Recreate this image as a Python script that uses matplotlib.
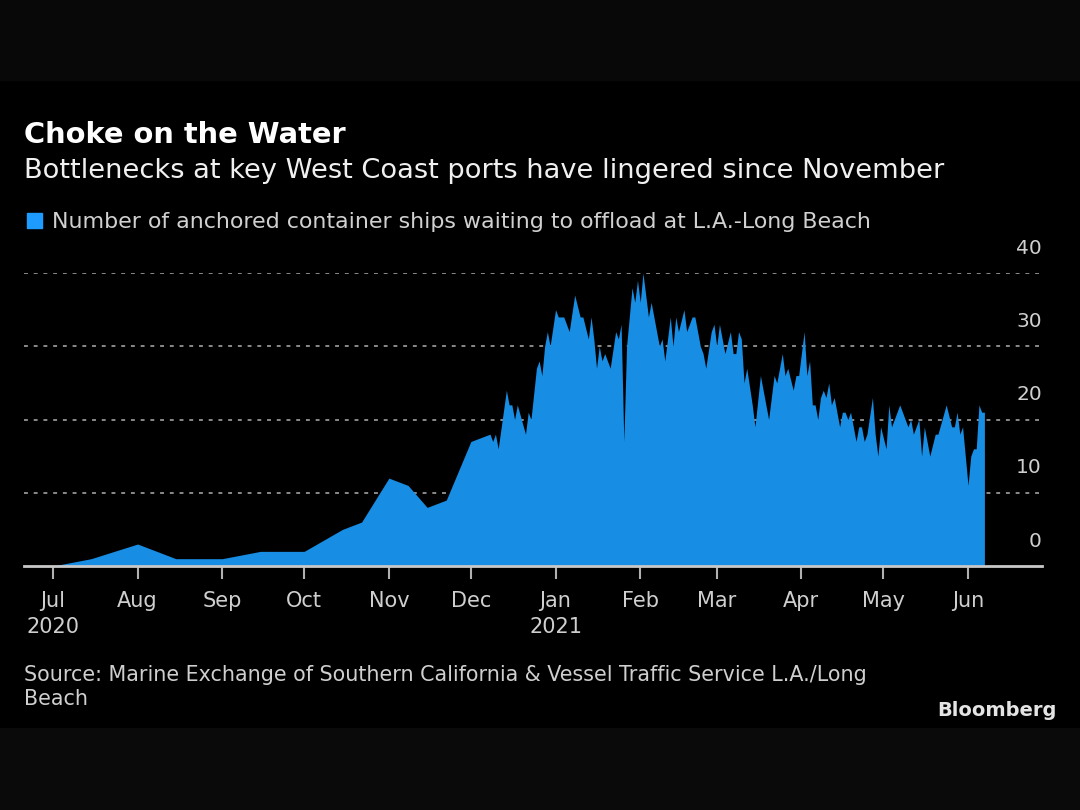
import numpy as np
import pandas as pd
import matplotlib
matplotlib.use("Agg")
import matplotlib.pyplot as plt
import matplotlib.dates as mdates
from matplotlib.patches import Rectangle

# ships waiting at anchor
dates = [
    "2020-07-01", "2020-07-15", "2020-08-01", "2020-08-15", "2020-09-01", "2020-09-15",
    "2020-10-01", "2020-10-15", "2020-10-22", "2020-11-01", "2020-11-08", "2020-11-15",
    "2020-11-22", "2020-12-01", "2020-12-08", "2020-12-09", "2020-12-10", "2020-12-11",
    "2020-12-14", "2020-12-15", "2020-12-16", "2020-12-17", "2020-12-18", "2020-12-21",
    "2020-12-22", "2020-12-23", "2020-12-25", "2020-12-26", "2020-12-27", "2020-12-28",
    "2020-12-29", "2020-12-30", "2021-01-01", "2021-01-02", "2021-01-04", "2021-01-05",
    "2021-01-06", "2021-01-08", "2021-01-10", "2021-01-11", "2021-01-13", "2021-01-14",
    "2021-01-15", "2021-01-16", "2021-01-17", "2021-01-18", "2021-01-19", "2021-01-20",
    "2021-01-21", "2021-01-23", "2021-01-24", "2021-01-25", "2021-01-26", "2021-01-27",
    "2021-01-29", "2021-01-30", "2021-01-31", "2021-02-01", "2021-02-02", "2021-02-03",
    "2021-02-04", "2021-02-05", "2021-02-08", "2021-02-09", "2021-02-10", "2021-02-12",
    "2021-02-13", "2021-02-14", "2021-02-15", "2021-02-17", "2021-02-18", "2021-02-20",
    "2021-02-21", "2021-02-23", "2021-02-24", "2021-02-25", "2021-02-27", "2021-02-28",
    "2021-03-01", "2021-03-02", "2021-03-04", "2021-03-06", "2021-03-07", "2021-03-08",
    "2021-03-09", "2021-03-10", "2021-03-11", "2021-03-12", "2021-03-14", "2021-03-15",
    "2021-03-17", "2021-03-20", "2021-03-22", "2021-03-23", "2021-03-25", "2021-03-26",
    "2021-03-27", "2021-03-29", "2021-03-30", "2021-03-31", "2021-04-02", "2021-04-03",
    "2021-04-04", "2021-04-05", "2021-04-06", "2021-04-07", "2021-04-08", "2021-04-09",
    "2021-04-10", "2021-04-11", "2021-04-12", "2021-04-13", "2021-04-15", "2021-04-16",
    "2021-04-17", "2021-04-18", "2021-04-19", "2021-04-21", "2021-04-22", "2021-04-23",
    "2021-04-24", "2021-04-25", "2021-04-27", "2021-04-28", "2021-04-29", "2021-04-30",
    "2021-05-02", "2021-05-03", "2021-05-04", "2021-05-07", "2021-05-08", "2021-05-10",
    "2021-05-11", "2021-05-12", "2021-05-14", "2021-05-15", "2021-05-16", "2021-05-18",
    "2021-05-20", "2021-05-21", "2021-05-24", "2021-05-26", "2021-05-27", "2021-05-28",
    "2021-05-29", "2021-05-30", "2021-06-01", "2021-06-02", "2021-06-03", "2021-06-04",
    "2021-06-05", "2021-06-06", "2021-06-07",
]
ships = [
    0, 1, 3, 1, 1, 2,
    2, 5, 6, 12, 11, 8,
    9, 17, 18, 17, 18, 16,
    24, 22, 22, 20, 22, 18,
    21, 20, 27, 28, 26, 30,
    32, 30, 35, 34, 34, 33,
    32, 37, 34, 34, 31, 34,
    31, 27, 30, 28, 29, 28,
    27, 32, 31, 33, 17, 30,
    38, 36, 39, 36, 40, 37,
    34, 36, 30, 31, 28, 34,
    30, 34, 32, 35, 32, 34,
    34, 30, 29, 27, 32, 33,
    30, 33, 29, 32, 29, 29,
    32, 31, 25, 27, 22, 19,
    26, 20, 26, 25, 29, 26,
    27, 24, 26, 26, 32, 26,
    28, 22, 22, 20, 23, 24,
    23, 25, 22, 23, 19, 21,
    21, 20, 21, 17, 19, 19,
    17, 18, 23, 18, 15, 19,
    16, 22, 19, 22, 21, 19,
    20, 18, 20, 15, 19, 15,
    18, 18, 22, 19, 19, 21,
    18, 19, 11, 15, 16, 16,
    22, 21, 21,
]

month_ticks = pd.date_range("2020-07-01", "2021-06-01", freq="MS")
month_labels = ["Jul\n2020", "Aug", "Sep", "Oct", "Nov", "Dec",
                "Jan\n2021", "Feb", "Mar", "Apr", "May", "Jun"]
y_ticks = [0, 10, 20, 30, 40]

title = "Choke on the Water"
subtitle = "Bottlenecks at key West Coast ports have lingered since November"
legend_label = "Number of anchored container ships waiting to offload at L.A.-Long Beach"
source_lines = ["Source: Marine Exchange of Southern California & Vessel Traffic Service L.A./Long",
                "Beach"]

blue = "#178de4"
W, H = 1080, 810

plt.rcParams["font.family"] = ["DejaVu Sans"]
fig = plt.figure(figsize=(W / 100, H / 100), dpi=100, facecolor="black")

# darker bands top and bottom
fig.patches.append(Rectangle((0, 1 - 80 / H), 1, 80 / H, transform=fig.transFigure,
                             color="#080808", zorder=0))
fig.patches.append(Rectangle((0, 0), 1, 82 / H, transform=fig.transFigure,
                             color="#0a0a0a", zorder=0))

left, right = 24 / W, 1042 / W
bottom, top = 1 - 566 / H, 1 - 273 / H
ax = fig.add_axes([left, bottom, right - left, top - bottom])
ax.set_facecolor("black")

x = pd.to_datetime(dates)
ax.fill_between(x, ships, 0, color=blue, linewidth=0, zorder=3)

ax.set_xlim(pd.Timestamp("2020-06-20 10:00"), pd.Timestamp("2021-06-28 02:00"))
ax.set_ylim(0, 40)

for v in y_ticks[1:]:
    ax.axhline(v, color="#8a8a8a", lw=1.4, ls=(0, (2, 3)), zorder=1)
for v in y_ticks:
    ax.text(1.0, v + 2.1, str(v), transform=ax.get_yaxis_transform(),
            ha="right", va="bottom", color="#cfcfcf", fontsize=14.5)

for s in ["top", "right", "left"]:
    ax.spines[s].set_visible(False)
ax.spines["bottom"].set_color("#c8c8c8")
ax.spines["bottom"].set_linewidth(2)
ax.spines["bottom"].set_zorder(4)
ax.set_yticks([])
ax.set_xticks(month_ticks)
ax.set_xticklabels(month_labels, linespacing=1.35)
ax.tick_params(axis="x", colors="#b0b0b0", length=9, width=1.5, pad=9,
               labelsize=15, labelcolor="#cfcfcf")

fig.text(24 / W, 1 - 143 / H, title, color="white", fontsize=20.8, fontweight="bold",
         va="baseline", ha="left")
fig.text(24 / W, 1 - 178 / H, subtitle, color="#f0f0f0", fontsize=19.6,
         va="baseline", ha="left")
fig.patches.append(Rectangle((27 / W, 1 - 228 / H), 15 / W, 15 / H,
                             transform=fig.transFigure, color="#1e9bff", zorder=2))
fig.text(52 / W, 1 - 228 / H, legend_label, color="#d0d0d0", fontsize=15.9,
         va="baseline", ha="left")
for line, base in zip(source_lines, [681, 705]):
    fig.text(24 / W, 1 - base / H, line, color="#cfcfcf", fontsize=14.9,
             va="baseline", ha="left")
fig.text(1057 / W, 1 - 716 / H, "Bloomberg", color="#e4e4e4", fontsize=14,
         fontweight="bold", va="baseline", ha="right")

fig.savefig("out.png", dpi=100, facecolor=fig.get_facecolor())
